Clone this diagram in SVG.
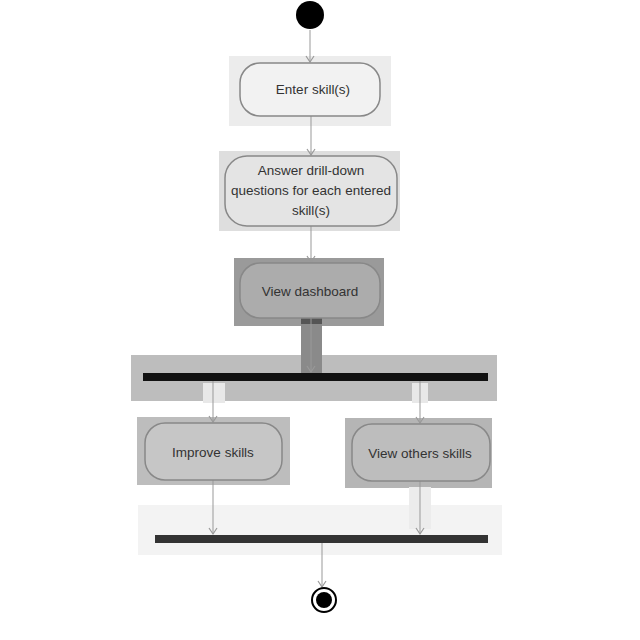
<svg xmlns="http://www.w3.org/2000/svg" width="640" height="640" viewBox="0 0 640 640">
<style>
.lbl{font-family:"Liberation Sans",Arial,sans-serif;font-size:13.5px;fill:#333;text-anchor:middle}
.act{stroke:#888;stroke-width:1.5}
.conn{stroke:#999;stroke-width:1;fill:none}
.hl{stroke:none}
</style>
<defs>
<marker id="arr" markerWidth="10" markerHeight="10" refX="8" refY="5" orient="auto" markerUnits="userSpaceOnUse" viewBox="0 0 10 10">
<path d="M2,1 L8,5 L2,9" fill="none" stroke="#999" stroke-width="1.2"/>
</marker>
</defs>
<rect width="640" height="640" fill="#fff"/>
<g id="highlights">
<rect class="hl" x="229" y="56" width="162" height="70" fill="#ececec"/>
<rect class="hl" x="219" y="151" width="181" height="80" fill="#dedede"/>
<rect class="hl" x="234" y="258" width="150" height="68" fill="#9a9a9a"/>
<rect class="hl" x="131" y="355" width="366" height="46" fill="#bdbdbd"/>
<rect class="hl" x="137" y="417" width="153" height="68" fill="#bdbdbd"/>
<rect class="hl" x="345" y="418" width="147" height="70" fill="#b5b5b5"/>
<rect class="hl" x="138" y="505" width="364" height="50" fill="#f3f3f3"/>
<rect class="hl" x="301" y="318" width="21" height="56" fill="#8a8a8a"/>
<rect class="hl" x="301" y="318" width="21" height="6" fill="#555"/>
<rect class="hl" x="203" y="383" width="22" height="20" fill="#e8e8e8"/>
<rect class="hl" x="412" y="383" width="16" height="20" fill="#e8e8e8"/>
<rect class="hl" x="409" y="487" width="22" height="42" fill="#ececec"/>
</g>
<g id="connectors">
<line class="conn" x1="310" y1="30" x2="310" y2="62" marker-end="url(#arr)"/>
<line class="conn" x1="311" y1="116" x2="311" y2="155" marker-end="url(#arr)"/>
<line class="conn" x1="311" y1="226" x2="311" y2="262" marker-end="url(#arr)"/>
<line class="conn" x1="311" y1="318" x2="311" y2="372" marker-end="url(#arr)" stroke="#555"/>
<line class="conn" x1="213" y1="381" x2="213" y2="422" marker-end="url(#arr)"/>
<line class="conn" x1="420" y1="381" x2="420" y2="423" marker-end="url(#arr)"/>
<line class="conn" x1="213" y1="480" x2="213" y2="534" marker-end="url(#arr)"/>
<line class="conn" x1="420" y1="481" x2="420" y2="534" marker-end="url(#arr)"/>
<line class="conn" x1="322" y1="543" x2="322" y2="587" marker-end="url(#arr)"/>
</g>
<g id="start"><circle cx="310" cy="15" r="14" fill="#000"/></g>
<g id="enter"><rect class="act" x="240" y="63" width="140" height="53" rx="20" fill="#f2f2f2"/><text class="lbl" x="313" y="94">Enter skill(s)</text></g>
<g id="answer"><rect class="act" x="225" y="156" width="172" height="70" rx="22" fill="#e4e4e4"/>
<text class="lbl" x="311" y="175">Answer drill-down</text><text class="lbl" x="311" y="195">questions for each entered</text><text class="lbl" x="311" y="215">skill(s)</text></g>
<g id="dashboard"><rect class="act" x="240" y="263" width="140" height="55" rx="20" fill="#acacac" stroke="#777"/><text class="lbl" x="310" y="296" fill="#222">View dashboard</text></g>
<g id="fork"><rect x="143" y="373" width="345" height="8" fill="#111"/></g>
<g id="improve"><rect class="act" x="145" y="423" width="137" height="57" rx="20" fill="#c6c6c6" stroke="#777"/><text class="lbl" x="213" y="457">Improve skills</text></g>
<g id="others"><rect class="act" x="352" y="424" width="138" height="57" rx="20" fill="#bdbdbd" stroke="#777"/><text class="lbl" x="420" y="458">View others skills</text></g>
<g id="join"><rect x="155" y="535" width="333" height="8" fill="#333"/></g>
<g id="end"><circle cx="324" cy="600" r="12" fill="#fff" stroke="#000" stroke-width="2"/><circle cx="324" cy="600" r="8" fill="#000"/></g>
</svg>
